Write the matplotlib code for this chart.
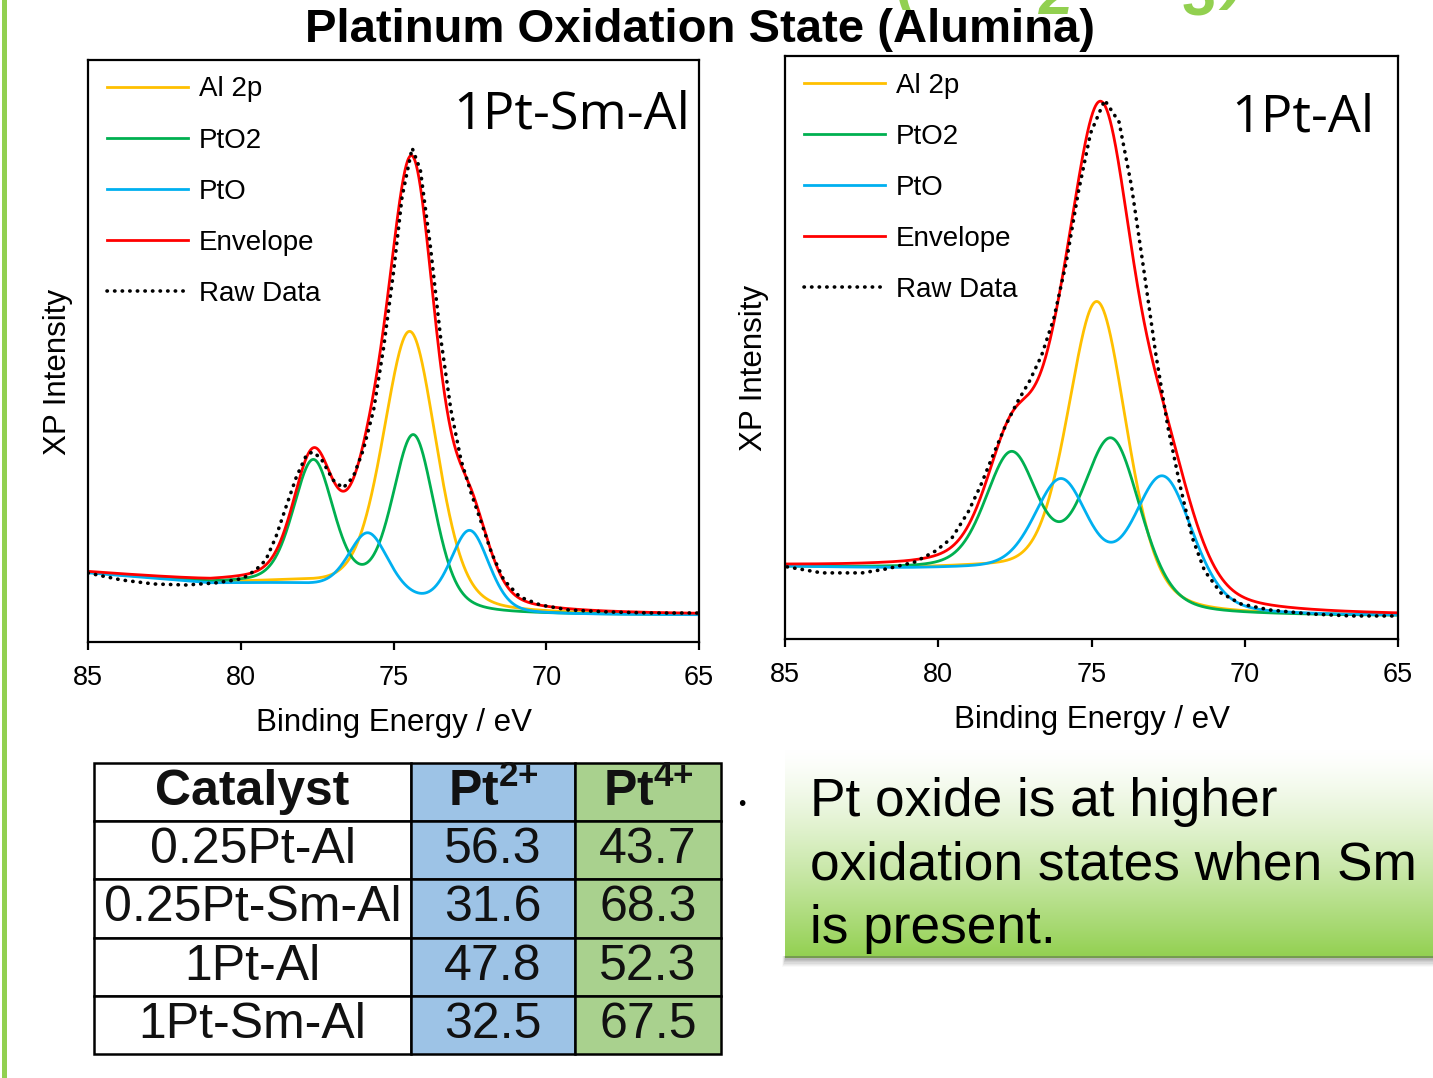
import numpy as np
import matplotlib
matplotlib.use('Agg')
import matplotlib.pyplot as plt
from matplotlib.lines import Line2D
from matplotlib.patches import Rectangle

plt.rcParams['font.family'] = ['Liberation Sans', 'DejaVu Sans']
plt.rcParams['mathtext.fontset'] = 'custom'
plt.rcParams['mathtext.rm'] = 'Liberation Sans'
plt.rcParams['mathtext.bf'] = 'Liberation Sans:bold'

# ---------------- data ----------------
series_labels = ['Al 2p', 'PtO2', 'PtO', 'Envelope', 'Raw Data']
x_ticks = [85, 80, 75, 70, 65]

# 1Pt-Sm-Al fitted peaks (binding energy eV, height, FWHM eV)
smal_al2p_center = [74.45]
smal_al2p_height = [269]
smal_al2p_fwhm = [2.05]
smal_pto2_center = [74.33, 77.62]
smal_pto2_height = [165, 124]
smal_pto2_fwhm = [1.6, 1.55]
smal_pto_center = [72.5, 75.83]
smal_pto_height = [81, 57]
smal_pto_fwhm = [1.5, 1.5]
smal_bg_low, smal_bg_high, smal_bg_edge = 27, 59, 69
smal_raw_energy = [85.0, 83.9, 82.84, 81.78, 80.85, 80.18, 79.91, 79.51, 79.18, 78.85,
                   78.52, 78.18, 77.85, 77.65, 77.38, 76.98, 76.65, 76.32, 75.99, 75.65,
                   75.32, 74.99, 74.72, 74.39, 74.12, 73.79, 73.46, 73.12, 72.79, 72.46,
                   72.12, 71.79, 71.39, 70.86, 70.19, 69.26, 67.93, 66.6, 65.0]
smal_raw_intensity = [69, 62, 58, 57, 59, 62, 64, 72, 82, 105,
                      135, 165, 187, 190, 184, 162, 154, 165, 192, 232,
                      295, 372, 445, 494, 472, 395, 305, 232, 182, 149,
                      119, 89, 62, 45, 37, 32, 30, 29, 29]

# 1Pt-Al fitted peaks
al_al2p_center = [74.80]
al_al2p_height = [290]
al_al2p_fwhm = [2.25]
al_pto2_center = [74.32, 77.60]
al_pto2_height = [156, 117]
al_pto2_fwhm = [2.2, 2.0]
al_pto_center = [72.66, 75.97]
al_pto_height = [131, 98]
al_pto_fwhm = [2.3, 2.1]
al_bg_low, al_bg_high, al_bg_edge = 23, 70, 72
al_raw_energy = [84.93, 83.8, 82.48, 81.68, 80.75, 80.08, 79.55, 79.02, 78.62, 78.22,
                 77.82, 77.43, 77.03, 76.63, 76.23, 75.83, 75.43, 75.03, 74.57, 74.1,
                 73.7, 73.31, 72.91, 72.51, 72.11, 71.71, 71.31, 70.78, 70.12, 69.19,
                 67.86, 66.53, 65.0]
al_raw_intensity = [72, 66, 66, 70, 77, 88, 101, 127, 153, 183,
                    212, 236, 257, 283, 320, 375, 446, 505, 538, 516,
                    453, 372, 286, 212, 153, 101, 68, 46, 35, 29,
                    25, 23, 23]

# table
table_header = ['Catalyst', r'Pt$^{\mathbf{2{+}}}$', r'Pt$^{\mathbf{4{+}}}$']
table_catalysts = ['0.25Pt-Al', '0.25Pt-Sm-Al', '1Pt-Al', '1Pt-Sm-Al']
table_pt2 = ['56.3', '31.6', '47.8', '32.5']
table_pt4 = ['43.7', '68.3', '52.3', '67.5']

note_lines = ['Pt oxide is at higher', 'oxidation states when Sm', 'is present.']

# ---------------- styles ----------------
C_AL, C_PTO2, C_PTO, C_ENV = '#FFC000', '#00B050', '#00B0F0', '#FF0000'
W, H = 1433, 1078
fig = plt.figure(figsize=(W / 100, H / 100), dpi=100)


def fx(px):
    return px / W


def fy(py):
    return 1 - py / H


def pv(E, c, h, w, eta=0.3):
    x = (E - c) / w
    return h * ((1 - eta) * np.exp(-4 * np.log(2) * x ** 2) + eta / (1 + 4 * x ** 2))


def draw_panel(rect, comps, bg, raw_e, raw_i, label, label_xy, ylabel_xy):
    ax = fig.add_axes(rect)
    E = np.linspace(85, 65, 2001)
    peaks = []
    for centers, heights, fwhms in comps:
        p = np.zeros_like(E)
        for c, h, w in zip(centers, heights, fwhms):
            p += pv(E, c, h, w)
        peaks.append(p)
    total = np.sum(peaks, axis=0)
    # Shirley-type background (cumulative area from low BE side)
    dE = abs(E[1] - E[0])
    cum = np.cumsum(total[::-1])[::-1] * dE
    b_low, b_high, b_edge = bg
    back = b_low + (b_high - b_low) * cum / cum[0]
    knee = 81.0
    back = back + np.where(E > knee, (b_edge - b_high) * (E - knee) / (85 - knee), 0)
    handles = []
    for p, col, lab in zip(peaks, [C_AL, C_PTO2, C_PTO], series_labels[:3]):
        l, = ax.plot(E, back + p, color=col, lw=2.0, label=lab)
        handles.append(l)
    l, = ax.plot(E, back + total, color=C_ENV, lw=2.0, label=series_labels[3])
    handles.append(l)
    l, = ax.plot(raw_e, raw_i, color='black', lw=2.6, ls=(0, (0.1, 2.0)),
                 dash_capstyle='round', label=series_labels[4])
    handles.append(l)
    ax.set_xlim(85, 65)
    ax.set_ylim(0, 582)
    ax.set_xticks(x_ticks)
    ax.set_xticklabels([str(t) for t in x_ticks])
    ax.set_yticks([])
    for s in ax.spines.values():
        s.set_linewidth(1.6)
    ax.tick_params(axis='x', direction='out', length=5.5, width=1.6, labelsize=19.5, pad=11)
    ax.set_xlabel('Binding Energy / eV', fontsize=22.5, labelpad=12)
    ax.set_ylabel('XP Intensity', fontsize=22.5)
    ax.yaxis.set_label_coords(*ylabel_xy)
    ax.text(label_xy[0], label_xy[1], label, transform=ax.transAxes, ha='right',
            va='baseline', fontsize=37.5, family=['Open Sans', 'DejaVu Sans'])
    ax.legend(handles=handles, loc='upper left', frameon=False, fontsize=20,
              handlelength=2.9, handletextpad=0.4, labelspacing=0.905,
              borderpad=0, borderaxespad=0,
              bbox_to_anchor=(19 / 611, 1 - 16.5 / 582))
    return ax


draw_panel([fx(88), fy(642), fx(611), 582 / H],
           [(smal_al2p_center, smal_al2p_height, smal_al2p_fwhm),
            (smal_pto2_center, smal_pto2_height, smal_pto2_fwhm),
            (smal_pto_center, smal_pto_height, smal_pto_fwhm)],
           (smal_bg_low, smal_bg_high, smal_bg_edge),
           smal_raw_energy, smal_raw_intensity, '1Pt-Sm-Al', (0.985, 0.883), (-0.025, 0.464))

draw_panel([fx(785), fy(639), fx(613), 583 / H],
           [(al_al2p_center, al_al2p_height, al_al2p_fwhm),
            (al_pto2_center, al_pto2_height, al_pto2_fwhm),
            (al_pto_center, al_pto_height, al_pto_fwhm)],
           (al_bg_low, al_bg_high, al_bg_edge),
           al_raw_energy, al_raw_intensity, '1Pt-Al', (0.962, 0.871), (-0.026, 0.465))

# ---------------- title & decorations ----------------
fig.text(fx(700), fy(42), 'Platinum Oxidation State (Alumina)', ha='center', va='baseline',
         fontsize=34, fontweight='bold')
for ch, px, py in zip(['(', '2', '3', ')'], [906, 1056, 1200, 1234], [-3, 14, 15, -3]):
    fig.text(fx(px), fy(py), ch, ha='center', va='baseline', fontsize=44,
             fontweight='bold', fontstyle='italic', color='#92D050')
fig.add_artist(Line2D([fx(4)] * 2, [0, 1], transform=fig.transFigure, color='#92D050', lw=3.6))

# ---------------- table ----------------
ax_t = fig.add_axes([fx(94), fy(1054), fx(627), 291 / H])
ax_t.axis('off')
cell_text = [[c, a, b] for c, a, b in zip(table_catalysts, table_pt2, table_pt4)]
tab = ax_t.table(cellText=cell_text, colLabels=table_header, cellLoc='center',
                 colWidths=[317 / 627, 164 / 627, 146 / 627], bbox=[0, 0, 1, 1])
tab.auto_set_font_size(False)
col_fill = ['white', '#9DC3E6', '#A9D18E']
for (r, c), cell in tab.get_celld().items():
    cell.set_facecolor(col_fill[c])
    cell.set_edgecolor('black')
    cell.set_linewidth(1.8)
    t = cell.get_text()
    t.set_fontsize(36)
    t.set_color('#111111')
    if r == 0:
        t.set_fontweight('bold')

# ---------------- note box ----------------
for i, a in enumerate([0.10, 0.10, 0.09, 0.08, 0.06, 0.05, 0.03]):
    fig.add_artist(Rectangle((fx(785 - i * 0.5), fy(960 + i * 1.2)), fx(W - 785 + i), (4 + i * 1.2) / H,
                             transform=fig.transFigure, color='#555555', alpha=a, lw=0))
ax_b = fig.add_axes([fx(785), fy(958), fx(W - 785), (958 - 750) / H])
ax_b.axis('off')
top = np.array([1.0, 1.0, 1.0])
bot = np.array([0x92, 0xD0, 0x50]) / 255
tt = np.linspace(0, 1, 200) ** 1.3
grad = (top[None, :] * (1 - tt[:, None]) + bot[None, :] * tt[:, None])[:, None, :]
ax_b.imshow(grad, aspect='auto', extent=[0, 1, 0, 1])
for line, py in zip(note_lines, [816, 880, 943]):
    fig.text(fx(810), fy(py), line, ha='left', va='baseline', fontsize=38.3, color='black')
fig.text(fx(742), fy(805), '•', ha='center', va='center', fontsize=15, color='black')

fig.savefig('out.png', dpi=100)
